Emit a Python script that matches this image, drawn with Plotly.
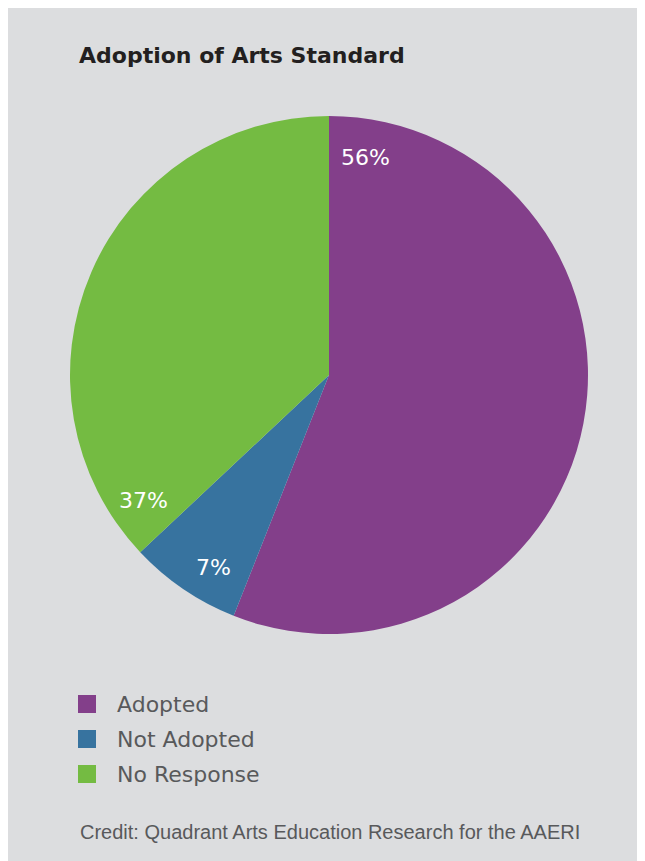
import math
import plotly.graph_objects as go

W, H = 645, 861
OFF = 8  # the page puts the figure 8px in from the top-left corner

labels = ["Adopted", "Not Adopted", "No Response"]
values = [56, 7, 37]
colors = ["#833f8a", "#37739f", "#74bb42"]

title = "Adoption of Arts Standard"
credit = "Credit: Quadrant Arts Education Research for the AAERI"

# pie centre and radius, in page pixels
cx, cy, rad = 329, 375, 259


def paper(x, y):
    # page pixels -> paper coordinates
    return (x - OFF) / W, 1 - (y - OFF) / H


fig = go.Figure(
    go.Pie(
        labels=labels,
        values=values,
        sort=False,
        direction="clockwise",
        rotation=0,
        marker=dict(colors=colors, line=dict(width=0)),
        textinfo="none",
        hoverinfo="label+percent",
        showlegend=False,
        domain=dict(
            x=[(cx - rad - OFF) / W, (cx + rad - OFF) / W],
            y=[1 - (cy + rad - OFF) / H, 1 - (cy - rad - OFF) / H],
        ),
    )
)

# percentage labels sit just past the leading edge of each slice
total = sum(values)
start = 0.0
for v in values:
    ang = math.radians(start / total * 360 + 9.5)
    x, y = paper(cx + 0.86 * rad * math.sin(ang), cy - 0.86 * rad * math.cos(ang) + 2)
    fig.add_annotation(
        x=x, y=y, xref="paper", yref="paper", xanchor="center", yanchor="middle",
        showarrow=False, text=f"{round(v / total * 100)}%",
        font=dict(family="DejaVu Sans", size=22, color="white"),
    )
    start += v

x, y = paper(77, 56)
fig.add_annotation(
    x=x, y=y, xref="paper", yref="paper", xanchor="left", yanchor="middle",
    showarrow=False, text=f"<b>{title}</b>",
    font=dict(family="DejaVu Sans", size=22, color="#231f20"),
)

# hand-built legend
for i, (lab, col) in enumerate(zip(labels, colors)):
    yc = 704 + 35 * i
    x0, y0 = paper(78, yc - 9)
    x1, y1 = paper(96, yc + 9)
    fig.add_shape(type="rect", xref="paper", yref="paper",
                  x0=x0, x1=x1, y0=y0, y1=y1, fillcolor=col, line=dict(width=0))
    tx, ty = paper(115, yc)
    fig.add_annotation(
        x=tx, y=ty, xref="paper", yref="paper", xanchor="left", yanchor="middle",
        showarrow=False, text=lab,
        font=dict(family="DejaVu Sans", size=22, color="#58595b"),
    )

x, y = paper(78, 832)
fig.add_annotation(
    x=x, y=y, xref="paper", yref="paper", xanchor="left", yanchor="middle",
    showarrow=False, text=credit,
    font=dict(family="Liberation Sans", size=20, color="#58595b"),
)

fig.update_layout(
    width=W, height=H, autosize=False,
    margin=dict(l=0, r=0, t=0, b=0),
    paper_bgcolor="#dcdddf",
    showlegend=False,
)

fig.write_html("out.html")
